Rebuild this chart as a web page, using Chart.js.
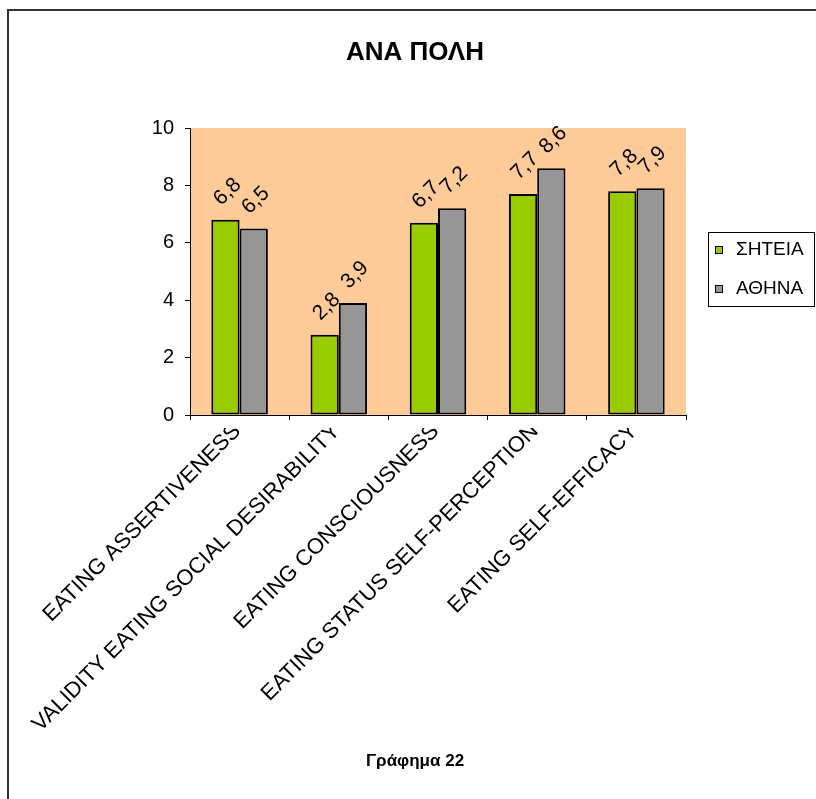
<!DOCTYPE html>
<html>
<head>
<meta charset="utf-8">
<script src="https://cdn.jsdelivr.net/npm/chart.js@4/dist/chart.umd.min.js"></script>
<style>
  html, body { margin: 0; padding: 0; background: #ffffff; overflow: hidden; }
  canvas { display: block; }
</style>
</head>
<body>
<canvas id="chart" width="816" height="799"></canvas>
<script>
// Scale categories and the two city series
const categories = [
  'EATING ASSERTIVENESS',
  'VALIDITY EATING SOCIAL DESIRABILITY',
  'EATING CONSCIOUSNESS',
  'EATING STATUS SELF-PERCEPTION',
  'EATING SELF-EFFICACY'
];
const sitiaValues = [6.8, 2.8, 6.7, 7.7, 7.8];
const athinaValues = [6.5, 3.9, 7.2, 8.6, 7.9];
const seriesNames = ['ΣΗΤΕΙΑ', 'ΑΘΗΝΑ'];
const seriesColors = ['#99CC00', '#969696'];
const yMin = 0;
const yMax = 10;
const yStep = 2;
const chartTitle = 'ΑΝΑ ΠΟΛΗ';
const footerText = 'Γράφημα 22';

const FONT = '"Liberation Sans", Arial, sans-serif';
const fmt = v => v.toFixed(1).replace('.', ',');

// Page frame, white background and the peach plot area
const backdrop = {
  id: 'backdrop',
  beforeDraw(chart) {
    const { ctx, chartArea: a } = chart;
    ctx.save();
    ctx.fillStyle = '#ffffff';
    ctx.fillRect(0, 0, chart.width, chart.height);
    ctx.fillStyle = '#FFCC99';
    ctx.fillRect(a.left, a.top, a.right - a.left, a.bottom - a.top);
    ctx.strokeStyle = '#333333';
    ctx.lineWidth = 2;
    ctx.beginPath();
    ctx.moveTo(8, chart.height);
    ctx.lineTo(8, 10);
    ctx.lineTo(chart.width, 10);
    ctx.stroke();
    ctx.restore();
  }
};

// Rotated value labels above each bar
const valueLabels = {
  id: 'valueLabels',
  afterDatasetsDraw(chart) {
    const { ctx } = chart;
    ctx.save();
    ctx.fillStyle = '#000000';
    ctx.font = '21px ' + FONT;
    ctx.textAlign = 'center';
    ctx.textBaseline = 'middle';
    chart.data.datasets.forEach((ds, di) => {
      chart.getDatasetMeta(di).data.forEach((bar, i) => {
        ctx.save();
        ctx.translate(bar.x + 2, bar.y - 28);
        ctx.rotate(-Math.PI / 4);
        ctx.fillText(fmt(ds.data[i]), 0, 0);
        ctx.restore();
      });
    });
    ctx.restore();
  }
};

// Category labels at 45 degrees, cut off just under the axis
const categoryLabels = {
  id: 'categoryLabels',
  afterDraw(chart) {
    const { ctx } = chart;
    const xs = chart.scales.x;
    const clipTop = xs.top + 13;
    ctx.save();
    ctx.beginPath();
    ctx.rect(0, clipTop, chart.width, chart.height - clipTop);
    ctx.clip();
    ctx.fillStyle = '#000000';
    ctx.font = '22px ' + FONT;
    ctx.textAlign = 'right';
    ctx.textBaseline = 'alphabetic';
    categories.forEach((label, i) => {
      const x = xs.getPixelForValue(i);
      ctx.save();
      ctx.translate(x + 2, xs.top + 17);
      ctx.rotate(-Math.PI / 4);
      ctx.fillText(label, 0, 0);
      ctx.restore();
    });
    ctx.restore();
  }
};

// Title, legend box and caption
const annotations = {
  id: 'annotations',
  afterDraw(chart) {
    const { ctx } = chart;
    ctx.save();
    ctx.fillStyle = '#000000';
    ctx.textAlign = 'center';
    ctx.textBaseline = 'middle';
    ctx.font = 'bold 26px ' + FONT;
    ctx.fillText(chartTitle, 415, 53);
    ctx.font = 'bold 17px ' + FONT;
    ctx.fillText(footerText, 415, 761);

    // legend
    ctx.strokeStyle = '#000000';
    ctx.lineWidth = 1;
    ctx.strokeRect(708.5, 232.5, 106, 74);
    ctx.font = '19px ' + FONT;
    ctx.textAlign = 'left';
    const rows = [250, 289];
    seriesNames.forEach((name, i) => {
      ctx.fillStyle = seriesColors[i];
      ctx.fillRect(715, rows[i] - 4, 8, 8);
      ctx.strokeRect(715.5, rows[i] - 3.5, 7, 7);
      ctx.fillStyle = '#000000';
      ctx.fillText(name, 736, rows[i]);
    });
    ctx.restore();
  }
};

new Chart(document.getElementById('chart'), {
  type: 'bar',
  data: {
    labels: categories,
    datasets: [
      { label: seriesNames[0], data: sitiaValues, backgroundColor: seriesColors[0] },
      { label: seriesNames[1], data: athinaValues, backgroundColor: seriesColors[1] }
    ]
  },
  options: {
    responsive: false,
    animation: false,
    devicePixelRatio: 1,
    layout: { padding: { top: 128, right: 130, left: 0, bottom: 0 } },
    datasets: {
      bar: {
        barPercentage: 1,
        categoryPercentage: 0.57,
        borderColor: '#000000',
        borderWidth: 2,
        borderSkipped: false
      }
    },
    plugins: {
      legend: { display: false },
      title: { display: false },
      tooltip: { enabled: false }
    },
    scales: {
      x: {
        offset: true,
        grid: { display: true, drawOnChartArea: false, drawTicks: true, tickLength: 5, color: '#000000', offset: true },
        border: { display: true, color: '#000000', width: 1 },
        ticks: { display: false },
        afterFit(scale) { scale.height = 799 - 415; }
      },
      y: {
        min: yMin,
        max: yMax,
        ticks: { stepSize: yStep, color: '#000000', font: { family: FONT, size: 20 }, padding: 11 },
        grid: { display: true, drawOnChartArea: false, drawTicks: true, tickLength: 5, color: '#000000' },
        border: { display: true, color: '#000000', width: 1 },
        afterFit(scale) { scale.width = 190; }
      }
    }
  },
  plugins: [backdrop, valueLabels, categoryLabels, annotations]
});
</script>
</body>
</html>
